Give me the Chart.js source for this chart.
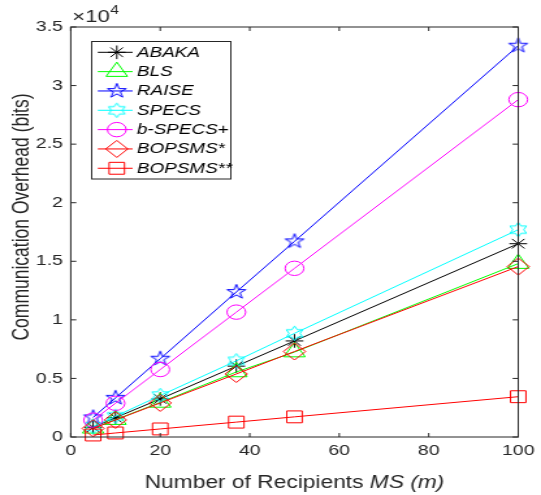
<!DOCTYPE html>
<html>
<head>
<meta charset="utf-8">
<script src="https://cdn.jsdelivr.net/npm/chart.js@4.4.1/dist/chart.umd.min.js"></script>
<style>
  html, body { margin: 0; padding: 0; background: #fff; overflow: hidden; }
  /* the reference figure is stretched sideways, so draw narrow and scale */
  #wrap { width: 416px; height: 495px; transform: scale(1.3005, 1); transform-origin: 0 0; }
</style>
</head>
<body>
<div id="wrap"><canvas id="chart"></canvas></div>
<script>
// data (bits)
const recipients = [5, 10, 20, 37, 50, 100];
const abaka    = [830, 1650, 3250, 6050, 8200, 16500];
const bls      = [740, 1480, 2950, 5550, 7250, 14800];
const raise    = [1670, 3340, 6680, 12380, 16700, 33400];
const specs    = [880, 1770, 3540, 6500, 8850, 17700];
const bSpecs   = [1440, 2880, 5760, 10660, 14400, 28800];
const bopsms1  = [730, 1455, 2910, 5380, 7300, 14550];
const bopsms2  = [172, 344, 688, 1270, 1720, 3440];

const seriesNames = ['ABAKA', 'BLS', 'RAISE', 'SPECS', 'b-SPECS+', 'BOPSMS*', 'BOPSMS**'];
const xTicks = [0, 20, 40, 60, 80, 100];
const yTicks = [0, 5000, 10000, 15000, 20000, 25000, 30000, 35000];

const AXIS = '#262626';
const FONT = '"Liberation Sans", Arial, Helvetica, sans-serif';

// pentagram / hexagram markers as small canvases
function starCanvas(points, outer, inner, color) {
    const size = Math.ceil(outer * 2 + 4);
    const c = document.createElement('canvas');
    c.width = c.height = size;
    const g = c.getContext('2d');
    g.strokeStyle = color;
    g.lineWidth = 1;
    g.beginPath();
    for (let i = 0; i < points * 2; i++) {
        const r = i % 2 ? inner : outer;
        const a = -Math.PI / 2 + i * Math.PI / points;
        const px = size / 2 + r * Math.cos(a), py = size / 2 + r * Math.sin(a);
        if (i) g.lineTo(px, py); else g.moveTo(px, py);
    }
    g.closePath();
    g.stroke();
    return c;
}

const pentagram = starCanvas(5, 7.6, 7.6 * 0.382, '#0000ff');
const hexagram = starCanvas(6, 7.3, 7.3 * 0.577, '#00ffff');

const styles = [
    { data: abaka,   color: '#000000', point: 'star',     r: 6.8 },
    { data: bls,     color: '#00ff00', point: 'triangle', r: 9.5 },
    { data: raise,   color: '#0000ff', point: pentagram,  r: 7.6 },
    { data: specs,   color: '#00ffff', point: hexagram,   r: 7.3 },
    { data: bSpecs,  color: '#ff00ff', point: 'circle',   r: 7.2 },
    { data: bopsms1, color: '#ff0000', point: 'rectRot',  r: 8.5 },
    { data: bopsms2, color: '#ff0000', point: 'rect',     r: 8.4 }
];

const datasets = styles.map((s, i) => ({
    label: seriesNames[i],
    data: s.data,
    borderColor: s.color,
    borderWidth: 1,
    pointStyle: s.point,
    pointRadius: s.r,
    pointBorderColor: s.color,
    pointBorderWidth: 1,
    pointBackgroundColor: 'rgba(0,0,0,0)',
    tension: 0,
    fill: false,
    clip: false,
    order: seriesNames.length - i   // later series on top, like MATLAB
}));

// legend marker drawing (same shapes as chart points)
function drawMarker(ctx, s, x, y) {
    const r = s.r;
    ctx.strokeStyle = s.color;
    ctx.lineWidth = 1;
    if (typeof s.point !== 'string') {
        ctx.drawImage(s.point, x - s.point.width / 2, y - s.point.height / 2);
        return;
    }
    ctx.beginPath();
    if (s.point === 'circle') {
        ctx.arc(x, y, r, 0, Math.PI * 2);
    } else if (s.point === 'triangle') {
        ctx.moveTo(x, y - r);
        ctx.lineTo(x + r * Math.sin(Math.PI * 2 / 3), y + r / 2);
        ctx.lineTo(x - r * Math.sin(Math.PI * 2 / 3), y + r / 2);
        ctx.closePath();
    } else if (s.point === 'rect') {
        const h = r * Math.SQRT1_2;
        ctx.rect(x - h, y - h, 2 * h, 2 * h);
    } else if (s.point === 'rectRot') {
        ctx.moveTo(x - r, y); ctx.lineTo(x, y - r); ctx.lineTo(x + r, y); ctx.lineTo(x, y + r);
        ctx.closePath();
    } else if (s.point === 'star') {
        const d = r * Math.SQRT1_2;
        ctx.moveTo(x, y - r); ctx.lineTo(x, y + r);
        ctx.moveTo(x - r, y); ctx.lineTo(x + r, y);
        ctx.moveTo(x - d, y - d); ctx.lineTo(x + d, y + d);
        ctx.moveTo(x + d, y - d); ctx.lineTo(x - d, y + d);
    }
    ctx.stroke();
}

const matlabFrame = {
    id: 'matlabFrame',
    afterDraw(chart) {
        const { ctx, chartArea: a, scales: { x, y } } = chart;
        ctx.save();

        // axes box + inward ticks
        ctx.strokeStyle = AXIS;
        ctx.lineWidth = 1;
        ctx.strokeRect(a.left, a.top, a.right - a.left, a.bottom - a.top);
        ctx.beginPath();
        xTicks.forEach(v => {
            const px = x.getPixelForValue(v);
            ctx.moveTo(px, a.bottom); ctx.lineTo(px, a.bottom - 4);
            ctx.moveTo(px, a.top); ctx.lineTo(px, a.top + 4);
        });
        yTicks.forEach(v => {
            const py = y.getPixelForValue(v);
            ctx.moveTo(a.left, py); ctx.lineTo(a.left + 4.3, py);
            ctx.moveTo(a.right, py); ctx.lineTo(a.right - 4.3, py);
        });
        ctx.stroke();

        // x10^4 exponent label
        ctx.fillStyle = AXIS;
        ctx.textBaseline = 'alphabetic';
        ctx.textAlign = 'left';
        ctx.font = '17px ' + FONT;
        ctx.fillText('\u00d710', 55.5, 22);
        const w10 = ctx.measureText('\u00d710').width;
        ctx.font = '12px ' + FONT;
        ctx.fillText('4', 55.5 + w10 + 0.5, 13.5);

        // x axis title, "MS (m)" in italic
        const partA = 'Number of Recipients ';
        const partB = 'MS (m)';
        const fs = '17.5px ';
        ctx.font = fs + FONT;
        const wa = ctx.measureText(partA).width;
        ctx.font = 'italic ' + fs + FONT;
        const wb = ctx.measureText(partB).width;
        const cx = (a.left + a.right) / 2;
        const sx = cx - (wa + wb) / 2;
        ctx.font = fs + FONT;
        ctx.fillText(partA, sx, 488);
        ctx.font = 'italic ' + fs + FONT;
        ctx.fillText(partB, sx + wa, 488);

        // y axis title
        ctx.save();
        ctx.translate(17.5, 217);
        ctx.rotate(-Math.PI / 2);
        ctx.font = '17.5px ' + FONT;
        ctx.textAlign = 'center';
        ctx.textBaseline = 'middle';
        ctx.fillText('Communication Overhead (bits)', 0, 0);
        ctx.restore();

        // legend box
        const lx0 = 70.5, lx1 = 177.5, ly0 = 41.5, ly1 = 179;
        ctx.fillStyle = '#fff';
        ctx.fillRect(lx0, ly0, lx1 - lx0, ly1 - ly0);
        ctx.strokeStyle = AXIS;
        ctx.strokeRect(lx0, ly0, lx1 - lx0, ly1 - ly0);
        ctx.font = 'italic 14.5px ' + FONT;
        ctx.textAlign = 'left';
        ctx.textBaseline = 'middle';
        styles.forEach((s, i) => {
            const cy = 52.3 + i * 19.33;
            ctx.strokeStyle = s.color;
            ctx.lineWidth = 1;
            ctx.beginPath();
            ctx.moveTo(75.2, cy); ctx.lineTo(102, cy);
            ctx.stroke();
            drawMarker(ctx, s, 89.8, cy);
            ctx.fillStyle = '#000';
            ctx.fillText(seriesNames[i], 105.3, cy + 0.5);
        });

        ctx.restore();
    }
};

new Chart(document.getElementById('chart'), {
    type: 'line',
    data: { labels: recipients, datasets },
    options: {
        responsive: true,
        maintainAspectRatio: false,
        animation: false,
        layout: { padding: { left: 0, right: 12.8, top: 27, bottom: 0 } },
        plugins: { legend: { display: false }, tooltip: { enabled: false } },
        scales: {
            x: {
                type: 'linear',
                min: 0, max: 100,
                afterBuildTicks: scale => { scale.ticks = xTicks.map(v => ({ value: v })); },
                afterFit: scale => { scale.height = 58; },
                grid: { display: false, drawTicks: false },
                border: { display: false },
                ticks: { color: AXIS, font: { family: FONT, size: 15 }, padding: 5, maxRotation: 0 }
            },
            y: {
                type: 'linear',
                min: 0, max: 35000,
                afterBuildTicks: scale => { scale.ticks = yTicks.map(v => ({ value: v })); },
                afterFit: scale => { scale.width = 54.4; },
                grid: { display: false, drawTicks: false },
                border: { display: false },
                ticks: {
                    color: AXIS,
                    font: { family: FONT, size: 15 },
                    padding: 6,
                    callback: v => String(v / 10000)
                }
            }
        }
    },
    plugins: [matlabFrame]
});
</script>
</body>
</html>
